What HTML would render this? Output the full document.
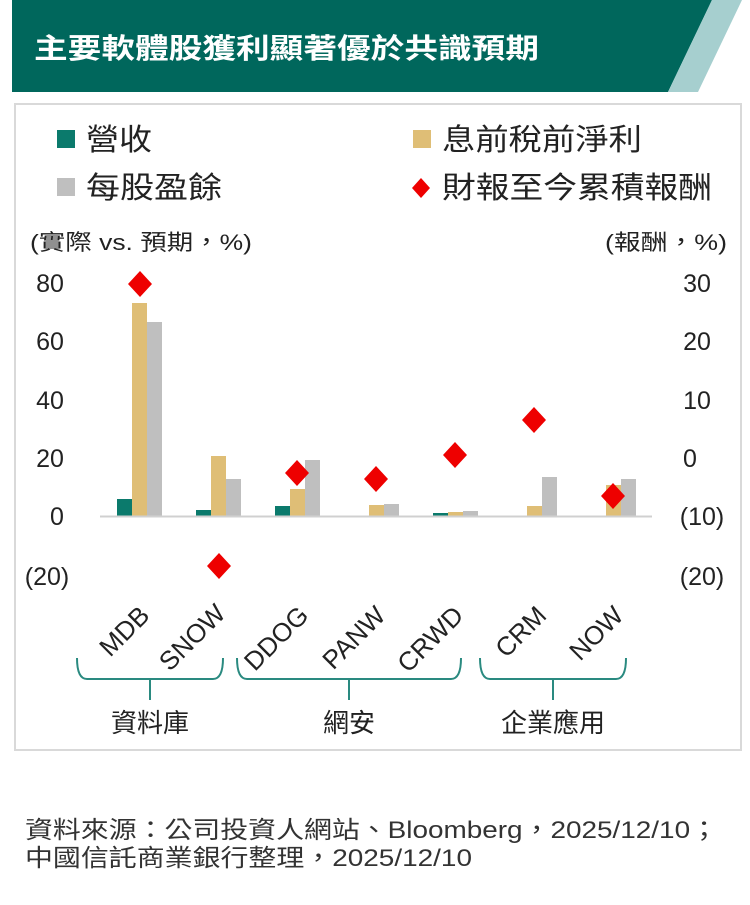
<!DOCTYPE html>
<html><head><meta charset="utf-8"><style>
html,body{margin:0;padding:0;background:#fff;}
svg{display:block;}
text{font-family:"Liberation Sans","Noto Sans CJK TC",sans-serif;}
</style></head><body>
<svg width="750" height="905" viewBox="0 0 750 905" xmlns="http://www.w3.org/2000/svg">
<rect width="750" height="905" fill="#fff"/>
<polygon points="12,0 712,0 668,92 12,92" fill="#00675c"/>
<polygon points="712,0 742,0 698,92 668,92" fill="#a6cfcf"/>
<text x="34" y="58" font-size="28" font-weight="bold" fill="#fff" textLength="505" lengthAdjust="spacingAndGlyphs">主要軟體股獲利顯著優於共識預期</text>
<rect x="15" y="104" width="726" height="646" fill="none" stroke="#d9d9d9" stroke-width="2"/>
<!-- legend -->
<rect x="57" y="130" width="18" height="18" fill="#0b7a6c"/>
<text x="86" y="150" font-size="30" fill="#222" textLength="66" lengthAdjust="spacingAndGlyphs">營收</text>
<rect x="413" y="130" width="18" height="18" fill="#dfbe76"/>
<text x="442" y="150" font-size="30" fill="#222" textLength="200" lengthAdjust="spacingAndGlyphs">息前稅前淨利</text>
<rect x="57" y="178" width="18" height="18" fill="#bfbfbf"/>
<text x="86" y="198" font-size="30" fill="#222" textLength="136" lengthAdjust="spacingAndGlyphs">每股盈餘</text>
<polygon points="421,178 430,188 421,198 412,188" fill="#ee0000"/>
<text x="442" y="198" font-size="30" fill="#222" textLength="270" lengthAdjust="spacingAndGlyphs">財報至今累積報酬</text>
<text x="30" y="250" font-size="22" fill="#222" textLength="222" lengthAdjust="spacingAndGlyphs">(實際 vs. 預期，%)</text>
<text x="727" y="250" font-size="22" fill="#222" text-anchor="end" textLength="122" lengthAdjust="spacingAndGlyphs">(報酬，%)</text>
<!-- ticks -->
<g font-size="25" fill="#222" text-anchor="middle">
<text x="50" y="292">80</text><text x="50" y="350">60</text><text x="50" y="409">40</text>
<text x="50" y="467">20</text><text x="57" y="525">0</text><text x="47" y="585">(20)</text>
<text x="697" y="292">30</text><text x="697" y="350">20</text><text x="697" y="409">10</text>
<text x="690" y="467">0</text><text x="702" y="525">(10)</text><text x="702" y="585">(20)</text>
</g>
<!-- bars -->
<g>
<rect x="117" y="499" width="15" height="17" fill="#0b7a6c"/><rect x="132" y="303" width="15" height="213" fill="#dfbe76"/><rect x="147" y="322" width="15" height="194" fill="#bfbfbf"/>
<rect x="196" y="510" width="15" height="6" fill="#0b7a6c"/><rect x="211" y="456" width="15" height="60" fill="#dfbe76"/><rect x="226" y="479" width="15" height="37" fill="#bfbfbf"/>
<rect x="275" y="506" width="15" height="10" fill="#0b7a6c"/><rect x="290" y="489" width="15" height="27" fill="#dfbe76"/><rect x="305" y="460" width="15" height="56" fill="#bfbfbf"/>
<rect x="369" y="505" width="15" height="11" fill="#dfbe76"/><rect x="384" y="504" width="15" height="12" fill="#bfbfbf"/>
<rect x="433" y="513" width="15" height="3" fill="#0b7a6c"/><rect x="448" y="512" width="15" height="4" fill="#dfbe76"/><rect x="463" y="511" width="15" height="5" fill="#bfbfbf"/>
<rect x="527" y="506" width="15" height="10" fill="#dfbe76"/><rect x="542" y="477" width="15" height="39" fill="#bfbfbf"/>
<rect x="606" y="485" width="15" height="31" fill="#dfbe76"/><rect x="621" y="479" width="15" height="37" fill="#bfbfbf"/>
</g>
<line x1="100" y1="516.5" x2="652" y2="516.5" stroke="#d0d0d0" stroke-width="2"/>
<g fill="#ee0000">
<polygon points="140,271 152,284 140,297 128,284"/>
<polygon points="219,553 231,566 219,579 207,566"/>
<polygon points="297,460 309,473 297,486 285,473"/>
<polygon points="376,466 388,479 376,492 364,479"/>
<polygon points="455,442 467,455 455,468 443,455"/>
<polygon points="534,407 546,420 534,433 522,420"/>
<polygon points="613,483 625,496 613,509 601,496"/>
</g>
<!-- x labels -->
<g font-size="26" fill="#222" text-anchor="end">
<text transform="translate(151,617) rotate(-45)">MDB</text>
<text transform="translate(227,615) rotate(-45)">SNOW</text>
<text transform="translate(310,617) rotate(-45)">DDOG</text>
<text transform="translate(387,617) rotate(-45)">PANW</text>
<text transform="translate(465,617) rotate(-45)">CRWD</text>
<text transform="translate(548,617) rotate(-45)">CRM</text>
<text transform="translate(625,617) rotate(-45)">NOW</text>
</g>
<!-- braces -->
<g fill="none" stroke="#2a8a80" stroke-width="2">
<path d="M77,658 Q77,679 87,679 L213,679 Q223,679 223,658 M150,679 L150,700"/>
<path d="M237,658 Q237,679 247,679 L451,679 Q461,679 461,658 M349,679 L349,700"/>
<path d="M480,658 Q480,679 490,679 L616,679 Q626,679 626,658 M553,679 L553,700"/>
</g>
<g font-size="26" fill="#222" text-anchor="middle">
<text x="150" y="732">資料庫</text>
<text x="349" y="732">網安</text>
<text x="553" y="732">企業應用</text>
</g>
<text x="25" y="838" font-size="24" fill="#333" textLength="693" lengthAdjust="spacingAndGlyphs">資料來源：公司投資人網站、Bloomberg，2025/12/10；</text>
<text x="25" y="866" font-size="24" fill="#333" textLength="447" lengthAdjust="spacingAndGlyphs">中國信託商業銀行整理，2025/12/10</text>
</svg>
</body></html>
